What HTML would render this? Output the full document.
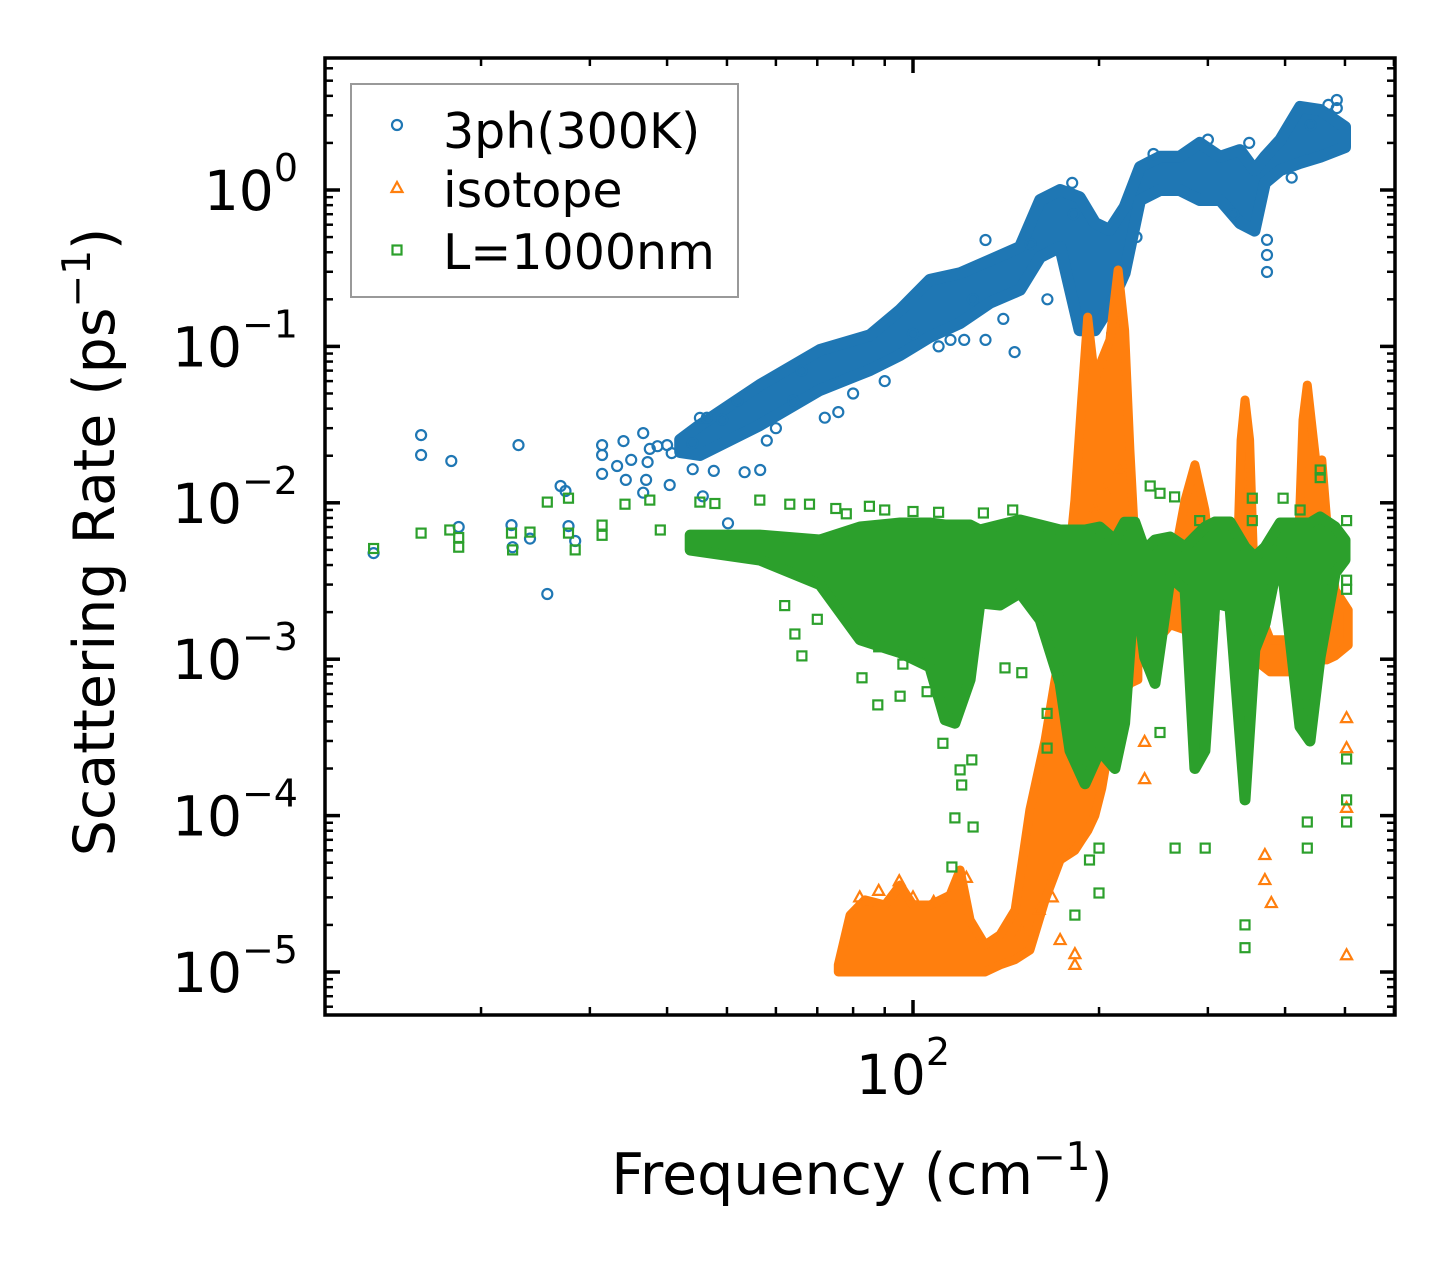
<!DOCTYPE html>
<html><head><meta charset="utf-8"><style>
html,body{margin:0;padding:0;background:#fff;}
svg{display:block;font-family:"DejaVu Sans","Liberation Sans",sans-serif;}
</style></head><body>
<svg id="chart" width="1455" height="1265" viewBox="0 0 1455 1265" xmlns="http://www.w3.org/2000/svg">
<rect width="1455" height="1265" fill="#fff"/>
<g id="plot"></g>
<g id="axes"></g>
<text x="862" y="1194" font-size="57" text-anchor="middle">Frequency (cm<tspan dy="-24" font-size="39">−1</tspan><tspan dy="24">)</tspan></text>
<text transform="translate(114,542) rotate(-90)" font-size="57" text-anchor="middle">Scattering Rate (ps<tspan dy="-24" font-size="39">−1</tspan><tspan dy="24">)</tspan></text>
<g>
<rect x="351" y="84" width="387" height="213" fill="#fff" fill-opacity="0.8" stroke="#999" stroke-width="2"/>
<circle cx="397" cy="125" r="5" fill="none" stroke="#1f77b4" stroke-width="2.2"/>
<text x="443" y="148" font-size="49">3ph(300K)</text>
<path d="M397,182 L402.5,192 L391.5,192 Z" fill="none" stroke="#ff7f0e" stroke-width="2.2"/>
<text x="443" y="207" font-size="49">isotope</text>
<rect x="392.5" y="245.5" width="9" height="9" fill="none" stroke="#2ca02c" stroke-width="2.2"/>
<text x="443" y="269" font-size="49">L=1000nm</text>
</g>
</svg>
<script>
// ---- data (frequency in cm^-1, rate in ps^-1) ----
const blueBandFreq=[42,45.2,56.5,70.7,85.2,95.3,106.5,119.2,133.2,149,160.6,173,186,197,208,220,233,251,270,291,314,338,357,371,393,423,456,500];
const blueBandHigh=[0.0253,0.0314,0.0566,0.0949,0.118,0.171,0.266,0.294,0.356,0.432,0.863,1.0,0.9,0.615,0.555,0.778,1.4,1.63,1.63,2.0,1.63,1.8,1.34,1.63,2.09,3.4,3.25,2.53];
const blueBandLow=[0.0211,0.0202,0.0314,0.0526,0.0706,0.0881,0.115,0.141,0.19,0.23,0.373,0.432,0.127,0.127,0.179,0.294,0.86,1.0,1.0,0.863,0.863,0.615,0.55,1.11,1.34,1.49,1.63,1.88];
const blueFreq=[13.4,16,16,17.9,18.4,23,26.9,27.4,22.4,24,22.5,27.7,28.4,25.6,31.4,31.4,31.4,34,36.6,33.2,35,34.3,37.2,37,36.6,40.4,37.5,38.6,40,40.7,44,45.7,50.2,47.6,45.2,46.4,44,49.1,56.6,53.4,75.7,131,121,146,131,181,374,374,374,485,485,64,60,90,110,100,52,58,66,72,80,115,125,140,155,165,182,210,230,245,300,330,350,410,440,470];
const blueRate=[0.00477,0.0271,0.0202,0.0185,0.007,0.0234,0.0128,0.0119,0.0072,0.0059,0.0052,0.0071,0.0057,0.00261,0.0234,0.0202,0.0153,0.0248,0.0279,0.0172,0.0188,0.014,0.0182,0.014,0.0116,0.013,0.0221,0.023,0.0234,0.0208,0.0164,0.011,0.0074,0.016,0.0349,0.035,0.0241,0.034,0.0162,0.0157,0.038,0.11,0.11,0.092,0.479,1.11,0.299,0.384,0.48,3.76,3.34,0.045,0.03,0.06,0.1,0.12,0.045,0.025,0.07,0.035,0.05,0.11,0.2,0.15,0.45,0.2,0.7,0.12,0.5,1.7,2.1,0.7,2.0,1.2,2.6,3.5];
const orangeAFreq=[75.7,79.1,83.6,90.1,95.3,100,106.5,114.8,119.2,123.7,130.8,138.3,146.3,154.6,163.6,173,182.8,187.5,191.7,196.9,202.1,208.3,214.7,220,224.4,231.2];
const orangeAHigh=[1.11e-5,2.31e-5,2.89e-5,2.68e-5,3.6e-5,2.68e-5,2.68e-5,3.1e-5,4.49e-5,2.15e-5,1.49e-5,1.73e-5,2.49e-5,1.09e-4,3.04e-4,1.15e-3,1.04e-2,4.54e-2,0.154,0.061,0.0818,0.11,0.308,0.127,0.0218,0.00239];
const orangeALow=[1e-5,1e-5,1e-5,1e-5,1e-5,1e-5,1e-5,1e-5,1e-5,1e-5,1e-5,1.11e-5,1.2e-5,1.38e-5,2.89e-5,5.2e-5,6e-5,7e-5,8e-5,1e-4,1.5e-4,3e-4,5e-4,6e-4,7e-4,7.4e-4];
const orangeBFreq=[237.1,241.5,260.7,275.6,285.9,296.7,308];
const orangeBHigh=[0.00133,0.00277,0.00321,0.0104,0.0175,0.009,0.00239];
const orangeBLow=[0.00095,0.00115,0.00166,0.00154,0.00154,0.00178,0.00178];
const orangeCFreq=[333.4,339.6,344.5,350.5,357.4,378.5,407.6,419.8,427.6,434.5,442.7,452,458.7,467,482,506];
const orangeCHigh=[0.00239,0.0252,0.0454,0.0252,0.00239,0.00133,0.00133,0.00431,0.0338,0.0566,0.0292,0.014,0.0188,0.00776,0.00277,0.00206];
const orangeCLow=[0.00133,0.0011,0.0011,0.0011,0.00099,0.00083,0.00083,0.0009,0.00099,0.00099,0.00099,0.00099,0.00099,0.00099,0.00105,0.00123];
const orangeFreq=[237,237,371,371,380,503,503,503,503,204,216,197,182.8,182.8,173,160,150,168,82,88,95,100,108,118,122];
const orangeRate=[0.000296,0.000171,0.000056,0.0000387,0.0000276,0.00042,0.00027,0.000112,0.0000128,0.012,0.016,0.009,0.0000111,0.000013,0.000016,0.000025,0.000018,0.00003,0.00003,0.000033,0.000038,0.00003,0.000028,0.000035,0.00004];
const greenBandFreq=[43.6,56.5,70.7,82.1,95.3,106.5,112.7,116.9,123.7,128.3,138.3,149,160.6,173,179.5,189.8,200.6,212.2,220,228.6,237.1,246.4,260.7,275.6,285.9,296.7,308,325.8,344.5,357.4,371.4,392.6,422.8,438.9,455.8,482.2,500];
const greenBandHigh=[0.00622,0.00622,0.00578,0.007,0.00743,0.00743,0.00721,0.00721,0.00721,0.0067,0.00721,0.00776,0.00721,0.0067,0.0067,0.0067,0.007,0.00578,0.0075,0.0075,0.00499,0.00578,0.00604,0.00521,0.00604,0.007,0.00754,0.00754,0.00521,0.0045,0.00521,0.00743,0.00743,0.00743,0.00811,0.007,0.00578];
const greenBandLow=[0.00499,0.00431,0.003,0.00133,0.0011,0.00089,0.00041,0.00039,0.00074,0.00229,0.00222,0.00265,0.00178,0.0007,0.00026,0.00016,0.00026,0.0002,0.00039,0.00321,0.00103,0.0007,0.00336,0.00277,0.0002,0.00026,0.00229,0.00216,0.000126,0.00115,0.0017,0.00499,0.00037,0.0003,0.00103,0.00356,0.00431];
const greenFreq=[13.4,16,17.8,18.4,18.4,22.4,24,22.5,25.6,27.7,27.7,28.4,31.4,31.4,34.2,37.5,39,45.2,47.8,56.5,63.2,68,64.4,66.1,82.7,87.7,95.3,105.4,111.8,116.9,125.1,115.6,140.9,150,164.8,164.8,119.2,124.5,119.9,96.3,182.8,200,193,200,265.5,297,344.5,344.5,434.5,434.5,503,503,503,503,503,503,456,456,242,251,265,291,354,354,423,397,220,251,75,78,85,90,100,110,130,145,62,70,88,105];
const greenRate=[0.0051,0.0064,0.0067,0.006,0.0052,0.0064,0.0065,0.005,0.0101,0.0107,0.0064,0.005,0.0062,0.0072,0.0098,0.0104,0.0067,0.0101,0.0099,0.0104,0.0098,0.0098,0.00145,0.00105,0.00076,0.00051,0.00058,0.00062,0.00029,0.0000966,0.0000845,0.0000469,0.00088,0.00082,0.00045,0.00027,0.000196,0.000227,0.000157,0.00093,0.0000231,0.000032,0.000052,0.000062,0.000062,0.000062,0.00002,0.0000143,0.000091,0.000062,0.000091,0.000126,0.00023,0.0028,0.0032,0.0077,0.0162,0.0145,0.0128,0.0115,0.0109,0.0077,0.0107,0.0077,0.009,0.0107,0.0046,0.00034,0.0092,0.0085,0.0095,0.009,0.0088,0.0087,0.0086,0.009,0.0022,0.0018,0.0012,0.0016];
const yTickExps=[0,-1,-2,-3,-4,-5];
const yTickLabels=["0","−1","−2","−3","−4","−5"];
const xTickValues=[100];
const xTickLabels=["2"];

// ---- axes ----
const L=325,R=1395,T=58,B=1015;
function X(f){return 913+618*Math.log10(f/100);}
function Y(r){return 190-156.4*Math.log10(r);}
const NS="http://www.w3.org/2000/svg";
const plot=document.getElementById('plot');
const axes=document.getElementById('axes');
function mk(tag,attrs,parent){const e=document.createElementNS(NS,tag);for(const k in attrs)e.setAttribute(k,attrs[k]);parent.appendChild(e);return e;}

const clip=mk('clipPath',{id:'clipP'},plot);
mk('rect',{x:L,y:T,width:R-L,height:B-T},clip);
const g=mk('g',{'clip-path':'url(#clipP)'},plot);

function band(fs,hi,lo,color,sw,name){
  let d='';
  for(let i=0;i<fs.length;i++){d+=(i?'L':'M')+X(fs[i]).toFixed(1)+','+Y(hi[i]).toFixed(1);}
  for(let i=fs.length-1;i>=0;i--){d+='L'+X(fs[i]).toFixed(1)+','+Y(lo[i]).toFixed(1);}
  d+='Z';
  const p=mk('path',{d:d,fill:color,stroke:color,'stroke-width':sw,'stroke-linejoin':'round'},g);
  
  
}
function circles(fs,rs,color,name){
  for(let i=0;i<fs.length;i++){
    const c=mk('circle',{cx:X(fs[i]).toFixed(1),cy:Y(rs[i]).toFixed(1),r:5,fill:'none',stroke:color,'stroke-width':2.2},g);
    
    
  }
}
function triangles(fs,rs,color,name){
  for(let i=0;i<fs.length;i++){
    const x=X(fs[i]),y=Y(rs[i]);
    const t=mk('path',{d:`M${x},${y-6} L${x+5.5},${y+4} L${x-5.5},${y+4} Z`,fill:'none',stroke:color,'stroke-width':2.2},g);
    
    
  }
}
function squares(fs,rs,color,name){
  for(let i=0;i<fs.length;i++){
    const s=mk('rect',{x:(X(fs[i])-4.5).toFixed(1),y:(Y(rs[i])-4.5).toFixed(1),width:9,height:9,fill:'none',stroke:color,'stroke-width':2.2},g);
    
    
  }
}
const BL='#1f77b4',OR='#ff7f0e',GR='#2ca02c';
band(blueBandFreq,blueBandHigh,blueBandLow,BL,12,'3ph-dense-band');
circles(blueFreq,blueRate,BL,'3ph-point');
band(orangeAFreq,orangeAHigh,orangeALow,OR,9,'isotope-dense-band');
band(orangeBFreq,orangeBHigh,orangeBLow,OR,9,'isotope-dense-band');
band(orangeCFreq,orangeCHigh,orangeCLow,OR,9,'isotope-dense-band');
triangles(orangeFreq,orangeRate,OR,'isotope-point');
band(greenBandFreq,greenBandHigh,greenBandLow,GR,11,'boundary-dense-band');
squares(greenFreq,greenRate,GR,'boundary-point');

// frame
const fr=mk('rect',{x:L,y:T,width:R-L,height:B-T,fill:'none',stroke:'#000','stroke-width':3.5},axes);



// y ticks
for(let e=-6;e<=1;e++){
  for(let m=1;m<=9;m++){
    const v=m*Math.pow(10,e);const y=Y(v);
    if(y<T||y>B)continue;
    const len=m===1?15:8;
    const t1=mk('line',{x1:L,x2:L+len,y1:y,y2:y,stroke:'#000','stroke-width':m===1?3.5:2.5},axes);
    
    
    const t2=mk('line',{x1:R,x2:R-len,y1:y,y2:y,stroke:'#000','stroke-width':m===1?3.5:2.5},axes);
    
    
  }
}
yTickExps.forEach((ex,i)=>{
  const y=Y(Math.pow(10,ex));
  const t=mk('text',{x:298,y:y+20,'font-size':55,'text-anchor':'end'},axes);
  
  
  t.appendChild(document.createTextNode('10'));
  const s=mk('tspan',{dy:-29,'font-size':38},t);s.textContent=yTickLabels[i];
});
// x ticks
for(let e=1;e<=2;e++){
  for(let m=1;m<=9;m++){
    const v=m*Math.pow(10,e);const x=X(v);
    if(x<L||x>R)continue;
    const len=m===1?15:8;
    const t1=mk('line',{x1:x,x2:x,y1:B,y2:B-len,stroke:'#000','stroke-width':m===1?3.5:2.5},axes);
    
    
    const t2=mk('line',{x1:x,x2:x,y1:T,y2:T+len,stroke:'#000','stroke-width':m===1?3.5:2.5},axes);
    
    
  }
}
xTickValues.forEach((v,i)=>{
  const x=X(v);
  const t=mk('text',{x:x-10,y:1094,'font-size':55,'text-anchor':'middle'},axes);
  
  
  t.appendChild(document.createTextNode('10'));
  const s=mk('tspan',{dy:-29,'font-size':38},t);s.textContent=xTickLabels[i];
});
</script>
</body></html>
